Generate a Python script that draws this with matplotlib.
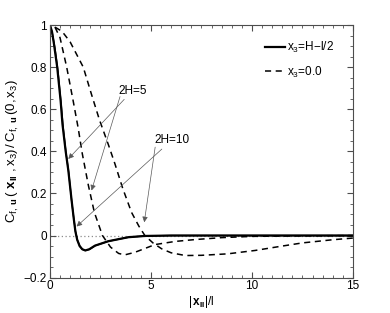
import matplotlib
matplotlib.use('Agg')
import matplotlib.pyplot as plt
import matplotlib.ticker as ticker

plt.rcParams['font.family'] = ['Liberation Sans', 'DejaVu Sans']
plt.rcParams['mathtext.fontset'] = 'custom'
plt.rcParams['mathtext.rm'] = 'Liberation Sans'
plt.rcParams['mathtext.it'] = 'Liberation Sans'
plt.rcParams['mathtext.bf'] = 'Liberation Sans:bold'

# x3 = H - l/2 (2H=5 and 2H=10 nearly overlap)
x_wall5 = [0.0, 0.1, 0.2, 0.36, 0.53, 0.62, 0.78, 0.91, 1.07, 1.18, 1.26, 1.35, 1.47,
           1.6, 1.75, 1.95, 2.23, 2.89, 3.88, 4.7, 6.0, 15.0]
y_wall5 = [1.0, 0.97, 0.91, 0.8, 0.64, 0.53, 0.40, 0.31, 0.17, 0.08, 0.02, -0.02, -0.05,
           -0.065, -0.071, -0.065, -0.048, -0.027, -0.008, -0.002, 0.0, 0.0]
x_wall10 = [0.0, 0.12, 0.25, 0.4, 0.56, 0.66, 0.8, 0.93, 1.08, 1.19, 1.27, 1.36, 1.48,
            1.61, 1.76, 1.96, 2.25, 2.9, 3.9, 4.7, 6.0, 15.0]
y_wall10 = [1.0, 0.96, 0.89, 0.78, 0.62, 0.51, 0.39, 0.30, 0.16, 0.075, 0.018, -0.022, -0.05,
            -0.066, -0.071, -0.066, -0.048, -0.027, -0.008, -0.002, 0.0, 0.0]

# x3 = 0.0
x_mid5 = [0.25, 0.5, 0.83, 1.15, 1.4, 1.6, 1.9, 2.2, 2.6, 3.0, 3.4, 3.7, 4.2, 5.2, 6.2,
          7.2, 8.5, 10.0, 12.0, 15.0]
y_mid5 = [0.99, 0.94, 0.80, 0.64, 0.51, 0.39, 0.24, 0.11, 0.0, -0.055, -0.085, -0.092,
          -0.08, -0.043, -0.028, -0.019, -0.01, -0.004, -0.002, 0.0]
x_mid10 = [0.25, 0.6, 1.0, 1.65, 2.06, 2.45, 2.9, 3.22, 3.6, 4.04, 4.4, 4.7, 5.1, 5.53,
           6.0, 6.7, 7.5, 8.8, 10.15, 11.5, 12.5, 14.0, 15.0]
y_mid10 = [0.99, 0.97, 0.92, 0.80, 0.67, 0.55, 0.43, 0.34, 0.225, 0.11, 0.045, 0.0, -0.035,
           -0.063, -0.082, -0.095, -0.094, -0.087, -0.071, -0.05, -0.035, -0.02, -0.012]

fig = plt.figure(figsize=(3.9, 3.13), dpi=100)
ax = fig.add_axes([0.128, 0.113, 0.777, 0.807])

ax.axhline(0, color='0.55', ls=(0, (1, 2)), lw=0.9, zorder=1)
ax.plot(x_wall5, y_wall5, color='k', lw=1.6, label=r'$\mathrm{x}_3$' + '=H\u2212l/2')
ax.plot(x_wall10, y_wall10, color='k', lw=1.0)
ax.plot(x_mid5, y_mid5, color='k', lw=1.1, dashes=(4, 3), label=r'$\mathrm{x}_3$' + '=0.0')
ax.plot(x_mid10, y_mid10, color='k', lw=1.1, dashes=(4, 3))

arr = dict(arrowstyle='-|>', lw=0.5, color='0.35', mutation_scale=8, shrinkA=0, shrinkB=0)
ax.annotate('2H=5', xy=(0.91, 0.364), xytext=(3.38, 0.66), fontsize=8.5,
            va='bottom', ha='left', arrowprops=arr)
ax.annotate('', xy=(2.06, 0.214), xytext=(3.47, 0.66), arrowprops=arr)
ax.annotate('2H=10', xy=(1.32, 0.043), xytext=(5.15, 0.424), fontsize=8.5,
            va='bottom', ha='left', arrowprops=arr)
ax.annotate('', xy=(4.67, 0.063), xytext=(5.21, 0.42), arrowprops=arr)

ax.set_xlim(0, 15)
ax.set_ylim(-0.2, 1)
ax.set_xticks([0, 5, 10, 15])
ax.set_yticks([-0.2, 0, 0.2, 0.4, 0.6, 0.8, 1.0])
ax.xaxis.set_minor_locator(ticker.MultipleLocator(0.5))
ax.yaxis.set_minor_locator(ticker.MultipleLocator(0.05))
ax.yaxis.set_major_formatter(ticker.FuncFormatter(lambda v, p: ('%g' % round(v, 2)).replace('-', '\u2212')))
ax.tick_params(which='both', direction='in', top=True, right=True, labelsize=8.5,
               color='0.3', pad=2)
ax.tick_params(which='major', length=4)
ax.tick_params(which='minor', length=2)
for s in ax.spines.values():
    s.set_color('0.3')
    s.set_linewidth(0.8)

ax.set_xlabel(r'$|\,\mathbf{x}_{\mathbf{II}}|/\mathrm{l}$', fontsize=8.5, labelpad=1)
ax.set_ylabel(r'$\mathrm{C}_{\mathrm{f},\ \mathbf{u}}\,(\ \mathbf{x}_{\mathbf{II}}\ ,\mathrm{x}_3)\,/\,\mathrm{C}_{\mathrm{f},\ \mathbf{u}}\,(0,\mathrm{x}_3)$',
              fontsize=9.5, labelpad=2)

ax.legend(loc='upper left', bbox_to_anchor=(265 / 390, 1 - 40 / 313), bbox_transform=fig.transFigure,
          frameon=False, fontsize=8.5, handlelength=1.7, handletextpad=0.2,
          labelspacing=0.8, borderpad=0, borderaxespad=0)

fig.savefig('out.png', dpi=100)
